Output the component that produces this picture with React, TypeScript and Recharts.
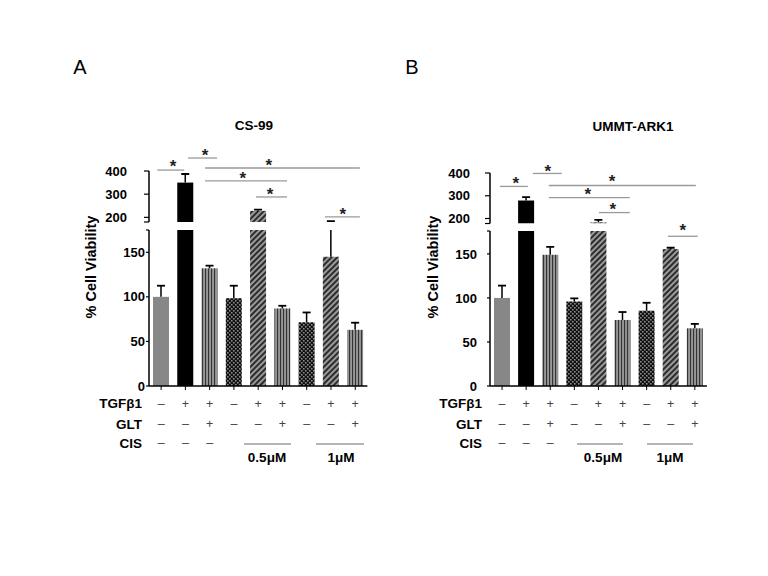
import React from 'react';
import { BarChart, Bar, XAxis, YAxis, ReferenceLine, ReferenceDot } from 'recharts';

// ---------- data ----------
const conditions = ['c1', 'c2', 'c3', 'c4', 'c5', 'c6', 'c7', 'c8', 'c9'];
const barPatterns = ['gray', 'black', 'vstripe', 'dots', 'diag', 'vstripe', 'dots', 'diag', 'vstripe'];
const tgfRow = ['–', '+', '+', '–', '+', '+', '–', '+', '+'];
const gltRow = ['–', '–', '+', '–', '–', '+', '–', '–', '+'];
const cisRow = ['–', '–', '–', '', '', '', '', '', ''];
const rowLabels = ['TGFβ1', 'GLT', 'CIS'];
const doseLabels = ['0.5μM', '1μM'];

const cs99Values = [100, 350, 132, 98.5, 228, 87, 71.5, 145, 63];
const cs99ErrTop = [112.5, 387, 135, 112.5, 233, 90, 82.5, 184, 71];
const ummtValues = [100, 279, 149, 96, 183, 75, 85.5, 155.5, 65.5];
const ummtErrTop = [114, 294, 158, 99.5, 194, 84, 94.5, 157, 70.5];

type Br = { from: number; to: number; y: number; starX: number; starY: number; seg: 'upper' | 'lower' };
const cs99Brackets: Br[] = [
  { from: -0.16, to: 0.95, y: 404, starX: 0.49, starY: 418, seg: 'upper' },
  { from: 1.11, to: 2.3, y: 456, starX: 1.81, starY: 468, seg: 'upper' },
  { from: 1.81, to: 8.19, y: 413, starX: 4.44, starY: 423, seg: 'upper' },
  { from: 1.81, to: 5.19, y: 357, starX: 3.37, starY: 368, seg: 'upper' },
  { from: 3.91, to: 5.19, y: 288, starX: 4.49, starY: 299, seg: 'upper' },
  { from: 6.75, to: 8.19, y: 202, starX: 7.49, starY: 213, seg: 'upper' },
];
const ummtBrackets: Br[] = [
  { from: -0.09, to: 1.07, y: 341, starX: 0.57, starY: 352, seg: 'upper' },
  { from: 1.28, to: 2.48, y: 398, starX: 1.9, starY: 405, seg: 'upper' },
  { from: 1.94, to: 8.04, y: 345, starX: 4.56, starY: 361, seg: 'upper' },
  { from: 1.94, to: 5.3, y: 292, starX: 3.56, starY: 304, seg: 'upper' },
  { from: 4.02, to: 5.3, y: 226, starX: 4.6, starY: 238, seg: 'upper' },
  { from: 6.88, to: 8.12, y: 170, starX: 7.5, starY: 176, seg: 'lower' },
];

// ---------- styles ----------
const FONT = '"Liberation Sans", Arial, Helvetica, sans-serif';
const fills: Record<string, string> = {
  gray: '#878787',
  black: '#000000',
  vstripe: 'url(#pat-v)',
  dots: 'url(#pat-c)',
  diag: 'url(#pat-d)',
};

type Seg = {
  y0: number; y1: number; dom: [number, number]; ticks: number[]; labels: number[];
  tickSize: number; tickMargin: number;
};
type Panel = {
  title: string; titleX: number; titleY: number; letter: string; letterX: number;
  values: number[]; errTop: number[]; brackets: Br[];
  x0: number; x1: number; upper: Seg; lower: Seg;
  yLabelX: number; rowLabelX: number; doseLines: [number, number][]; doseLabelX: number[];
};

const panels: Panel[] = [
  {
    title: 'CS-99', titleX: 254, titleY: 126, letter: 'A', letterX: 80,
    values: cs99Values, errTop: cs99ErrTop, brackets: cs99Brackets,
    x0: 149, x1: 367.4,
    upper: { y0: 171, y1: 222, dom: [180, 400], ticks: [180, 200, 300, 400], labels: [200, 300, 400], tickSize: 5, tickMargin: 17 },
    lower: { y0: 230, y1: 386, dom: [0, 175], ticks: [0, 50, 100, 150, 175], labels: [0, 50, 100, 150], tickSize: 3, tickMargin: 1 },
    yLabelX: 91, rowLabelX: 142, doseLines: [[244, 291], [316, 364]], doseLabelX: [267, 341],
  },
  {
    title: 'UMMT-ARK1', titleX: 633, titleY: 127, letter: 'B', letterX: 412,
    values: ummtValues, errTop: ummtErrTop, brackets: ummtBrackets,
    x0: 489.5, x1: 706.4,
    upper: { y0: 172.5, y1: 223, dom: [178, 400], ticks: [178, 200, 300, 400], labels: [200, 300, 400], tickSize: 5, tickMargin: 15 },
    lower: { y0: 231, y1: 386, dom: [0, 176], ticks: [0, 50, 100, 150, 176], labels: [0, 50, 100, 150], tickSize: 3, tickMargin: 10 },
    yLabelX: 433, rowLabelX: 482, doseLines: [[577, 623], [647, 693]], doseLabelX: [603, 670],
  },
];

// ---------- pieces ----------
const makeShape = (dom: [number, number]) => (props: any) => {
  const { x, y, width, height, payload, background } = props;
  if (!payload || payload.val == null) return <g />;
  let bottom: number;
  let ppu: number;
  if (background && background.height > 0) {
    bottom = background.y + background.height;
    ppu = background.height / (dom[1] - dom[0]);
  } else {
    bottom = y + height;
    ppu = height / (payload.val - dom[0]);
  }
  if (!isFinite(ppu)) return <g />;
  const top = bottom - (dom[1] - dom[0]) * ppu;
  const yOf = (v: number) => bottom - (Math.min(v, dom[1]) - dom[0]) * ppu;
  const rectTop = Math.max(Math.min(y, y + height), top);
  const cx = x + width / 2;
  const errY = yOf(payload.err);
  const barTop = yOf(payload.val);
  return (
    <g>
      {bottom - rectTop > 0.2 && (
        <rect x={x} y={rectTop} width={width} height={bottom - rectTop} fill={fills[payload.pat]} />
      )}
      {barTop - errY > 0.3 && (
        <line x1={cx} x2={cx} y1={barTop} y2={errY} stroke="#000" strokeWidth={1.5} />
      )}
      {payload.err <= dom[1] && payload.err > payload.val - 0.01 && (
        <line x1={cx - 4} x2={cx + 4} y1={errY} y2={errY} stroke="#000" strokeWidth={1.8} />
      )}
    </g>
  );
};

const TableTick = (props: any) => {
  const { x, y, payload } = props;
  const i = conditions.indexOf(payload.value);
  const rows = [tgfRow, gltRow, cisRow];
  const offs = [12, 32.5, 51.5];
  return (
    <g>
      {rows.map((r, k) => (
        <text key={k} x={x} y={y + offs[k]} textAnchor="middle" dominantBaseline="central"
          fontSize={12.5} fill="#444" fontFamily={FONT}>{r[i]}</text>
      ))}
    </g>
  );
};

const StarShape = (props: any) => (
  <text x={props.cx} y={props.cy} textAnchor="middle" dominantBaseline="central" fontSize={17}
    fontWeight={700} fill="#222" fontFamily={FONT}>*</text>
);

function Segment({ p, which }: { p: Panel; which: 'upper' | 'lower' }) {
  const s = p[which];
  const isLower = which === 'lower';
  const yw = 60;
  const mt = isLower ? 10 : 48;
  const mb = isLower ? 5 : 10;
  const xh = isLower ? 75 : 0;
  const data = conditions.map((c, i) => {
    const v = p.values[i];
    const e = p.errTop[i];
    let val: number | null;
    if (isLower) val = v;
    else val = v > s.dom[0] ? v : e > s.dom[0] ? s.dom[0] : null;
    return { name: c, idx: i, val, err: e, pat: barPatterns[i] };
  });
  const plotW = p.x1 - p.x0;
  const halfBand = plotW / conditions.length / 2;
  const w = plotW + yw + 20;
  const h = s.y1 - s.y0 + mt + mb + xh;
  const brs = p.brackets.filter((b) => b.seg === which);
  return (
    <div style={{ position: 'absolute', left: p.x0 - yw - 10, top: s.y0 - mt }}>
      <BarChart width={w} height={h} data={data} margin={{ top: mt, right: 10, bottom: mb, left: 10 }} barSize={16}>
        <XAxis xAxisId="cat" dataKey="name" hide={!isLower} height={xh} interval={0}
          tick={TableTick} tickSize={4} tickMargin={2}
          axisLine={{ stroke: '#000', strokeWidth: 1.5 }} tickLine={{ stroke: '#000', strokeWidth: 1 }} />
        <XAxis xAxisId="num" dataKey="idx" type="number" domain={[0, conditions.length - 1]}
          padding={{ left: halfBand, right: halfBand }} hide />
        <YAxis width={yw} domain={s.dom} ticks={s.ticks} allowDataOverflow interval={0} type="number"
          tickSize={s.tickSize} tickMargin={s.tickMargin}
          tickFormatter={(v: number) => (s.labels.includes(v) ? String(v) : '')}
          tick={{ fill: '#000', fontSize: 13, fontWeight: 700, fontFamily: FONT }}
          axisLine={{ stroke: '#000', strokeWidth: 1.5 }} tickLine={{ stroke: '#000', strokeWidth: 1.2 }} />
        <Bar xAxisId="cat" dataKey="val" isAnimationActive={false} shape={makeShape(s.dom)} />
        {brs.map((b, k) => (
          <ReferenceLine key={'l' + k} xAxisId="num" ifOverflow="visible"
            segment={[{ x: b.from, y: b.y }, { x: b.to, y: b.y }]} stroke="#9a9a9a" strokeWidth={1.3} />
        ))}
        {brs.map((b, k) => (
          <ReferenceDot key={'s' + k} xAxisId="num" x={b.starX} y={b.starY} r={1} ifOverflow="visible"
            shape={StarShape} />
        ))}
      </BarChart>
    </div>
  );
}

const abs = (x: number, y: number, extra: React.CSSProperties = {}): React.CSSProperties => ({
  position: 'absolute', left: x, top: y, transform: 'translate(-50%, -50%)', whiteSpace: 'nowrap', lineHeight: 1, ...extra,
});

function PanelView({ p }: { p: Panel }) {
  const rowY = [404, 424.5, 443.5];
  return (
    <>
      <div style={abs(p.letterX, 66.5, { fontSize: 20 })}>{p.letter}</div>
      <div style={abs(p.titleX, p.titleY, { fontSize: 13.5, fontWeight: 700 })}>{p.title}</div>
      <div style={abs(p.yLabelX, 267, { fontSize: 14.5, fontWeight: 700, transform: 'translate(-50%, -50%) rotate(-90deg)' })}>
        % Cell Viability
      </div>
      <Segment p={p} which="upper" />
      <Segment p={p} which="lower" />
      {rowLabels.map((t, k) => (
        <div key={t} style={{
          position: 'absolute', left: p.rowLabelX - 100, width: 100, top: rowY[k], transform: 'translateY(-50%)',
          textAlign: 'right', fontSize: 13.5, fontWeight: 700, lineHeight: 1,
        }}>{t}</div>
      ))}
      {p.doseLines.map(([a, b], k) => (
        <div key={'dl' + k} style={{ position: 'absolute', left: a, top: 443, width: b - a, height: 1.5, background: '#b5b5b5' }} />
      ))}
      {doseLabels.map((t, k) => (
        <div key={t} style={abs(p.doseLabelX[k], 457.5, { fontSize: 13.5, fontWeight: 700 })}>{t}</div>
      ))}
    </>
  );
}

export default function App() {
  return (
    <div style={{ position: 'absolute', left: 0, top: 0, width: 768, height: 576, background: '#fff', fontFamily: FONT, color: '#000', overflow: 'hidden' }}>
      <svg width={0} height={0} style={{ position: 'absolute' }}>
        <defs>
          <pattern id="pat-v" width={3} height={10} patternUnits="userSpaceOnUse">
            <rect width={3} height={10} fill="#979797" />
            <rect width={1.1} height={10} fill="#333" />
          </pattern>
          <pattern id="pat-d" width={4} height={4} patternUnits="userSpaceOnUse" patternTransform="rotate(45)">
            <rect width={4} height={4} fill="#9a9a9a" />
            <rect width={2} height={4} fill="#2c2c2c" />
          </pattern>
          <pattern id="pat-c" width={4} height={4} patternUnits="userSpaceOnUse">
            <rect width={4} height={4} fill="#111" />
            <rect x={0} y={0} width={1.6} height={1.6} fill="#8a8a8a" />
            <rect x={2} y={2} width={1.6} height={1.6} fill="#8a8a8a" />
          </pattern>
        </defs>
      </svg>
      {panels.map((p) => (
        <PanelView key={p.letter} p={p} />
      ))}
    </div>
  );
}
